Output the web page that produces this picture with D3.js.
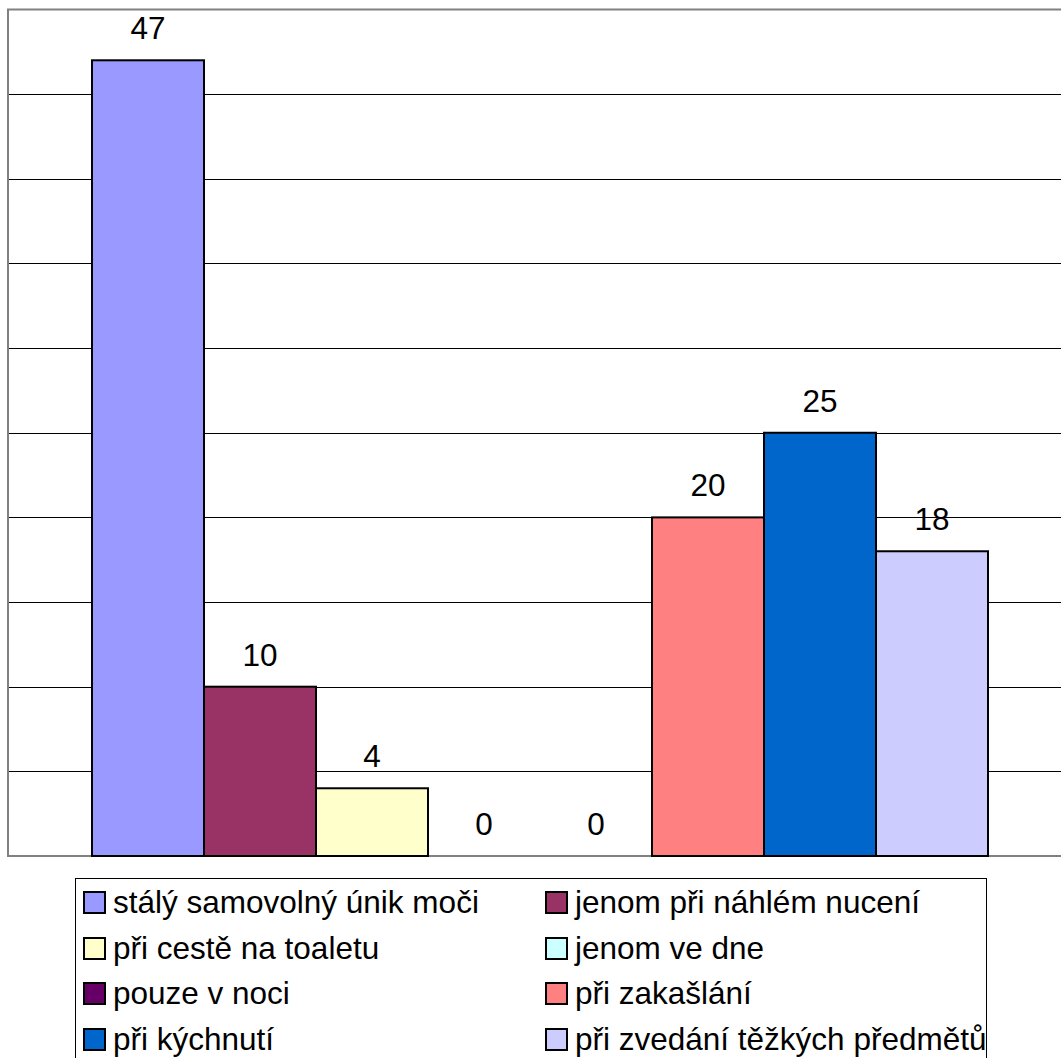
<!DOCTYPE html>
<html>
<head>
<meta charset="utf-8">
<script src="https://cdn.jsdelivr.net/npm/d3@7"></script>
<style>
  html, body { margin: 0; padding: 0; background: #fff; }
  svg { display: block; font-family: Arial, "Liberation Sans", sans-serif; }
</style>
</head>
<body>
<svg id="chart" width="1061" height="1058"></svg>
<script>
// Series (one bar each) and their counts
const seriesNames = [
  "stálý samovolný únik moči",
  "jenom při náhlém nucení",
  "při cestě na toaletu",
  "jenom ve dne",
  "pouze v noci",
  "při zakašlání",
  "při kýchnutí",
  "při zvedání těžkých předmětů"
];
const seriesValues = [47, 10, 4, 0, 0, 20, 25, 18];
const seriesColors = ["#9999FF", "#993366", "#FFFFCC", "#CCFFFF", "#660066", "#FF8080", "#0066CC", "#CCCCFF"];
const yTicks = [0, 5, 10, 15, 20, 25, 30, 35, 40, 45, 50];

const svg = d3.select("#chart");

// Plot area
const plot = { left: 8, right: 1072, top: 9.5, bottom: 856 };

const y = d3.scaleLinear().domain([0, 50]).range([plot.bottom, plot.top]);

// Single category, bars grouped with 150% gap width
const x0 = d3.scaleBand().domain(["all"]).range([plot.left, plot.right])
  .paddingInner(0).paddingOuter(0.09375);
const x1 = d3.scaleBand().domain(seriesNames).range([0, x0.bandwidth()]).padding(0);

// Gridlines
svg.append("g")
  .selectAll("line")
  .data(yTicks.filter(t => t > 0 && t < 50))
  .join("line")
  .attr("x1", plot.left).attr("x2", plot.right)
  .attr("y1", d => Math.round(y(d)) + 0.5).attr("y2", d => Math.round(y(d)) + 0.5)
  .attr("stroke", "#000").attr("stroke-width", 1);

// Plot area border
svg.append("rect")
  .attr("x", plot.left).attr("y", plot.top)
  .attr("width", plot.right - plot.left).attr("height", plot.bottom - plot.top)
  .attr("fill", "none").attr("stroke", "#808080").attr("stroke-width", 2);

const data = seriesNames.map((n, i) => ({ name: n, value: seriesValues[i], color: seriesColors[i] }));

const bars = svg.append("g").attr("transform", `translate(${x0("all")},0)`);

bars.selectAll("rect")
  .data(data.filter(d => d.value > 0))
  .join("rect")
  .attr("x", d => x1(d.name))
  .attr("y", d => y(d.value))
  .attr("width", x1.bandwidth())
  .attr("height", d => y(0) - y(d.value))
  .attr("fill", d => d.color)
  .attr("stroke", "#000").attr("stroke-width", 2);

// Value labels
bars.selectAll("text")
  .data(data)
  .join("text")
  .attr("x", d => x1(d.name) + x1.bandwidth() / 2)
  .attr("y", d => y(d.value) - 21)
  .attr("text-anchor", "middle")
  .attr("font-size", 31.5)
  .attr("fill", "#000")
  .text(d => d.value);

// Legend
const legend = svg.append("g");
legend.append("rect")
  .attr("x", 75.5).attr("y", 878.5).attr("width", 911).attr("height", 200)
  .attr("fill", "#fff").attr("stroke", "#000").attr("stroke-width", 1);

const colX = [84, 546];
const rowY = [892, 938, 983, 1029];
const items = legend.selectAll("g.item")
  .data(data)
  .join("g")
  .attr("class", "item")
  .attr("transform", (d, i) => `translate(${colX[i % 2]},${rowY[Math.floor(i / 2)]})`);

items.append("rect")
  .attr("x", 0).attr("y", 0).attr("width", 21).attr("height", 21)
  .attr("fill", d => d.color).attr("stroke", "#000").attr("stroke-width", 2);

items.append("text")
  .attr("x", 29).attr("y", 21)
  .attr("font-size", 31.5)
  .attr("textLength", null)
  .attr("fill", "#000")
  .text(d => d.name);
</script>
</body>
</html>
